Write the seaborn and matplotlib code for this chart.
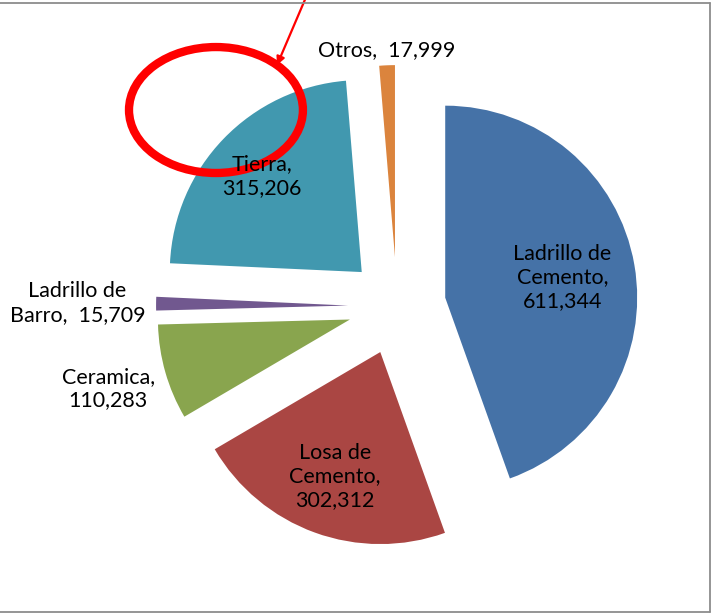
import matplotlib
matplotlib.use("Agg")
import numpy as np
import matplotlib.pyplot as plt
import seaborn as sns
from matplotlib.patches import Ellipse
from matplotlib.lines import Line2D

# data (clockwise from 12 o'clock)
categories = ['Ladrillo de\nCemento', 'Losa de\nCemento', 'Ceramica',
              'Ladrillo de\nBarro', 'Tierra', 'Otros']
values = [611344, 302312, 110283, 15709, 315206, 17999]
separators = ['\n', '\n', '\n', '  ', '\n', '  ']
colors = ['#4572A7', '#AA4643', '#89A54E', '#71588F', '#4198AF', '#DB843D']

# label placement along each wedge's bisector (in pie radii)
label_dist = [0.62, 0.69, 1.31, 1.41, 0.72, 1.08]

sns.set_style("white")
plt.rcParams['font.family'] = ['Lato', 'DejaVu Sans']

fig = plt.figure(figsize=(7.12, 6.14), dpi=100)
ax = fig.add_axes([0, 0, 1, 1])

wedges, _ = ax.pie(values, colors=colors, startangle=90, counterclock=False,
                   explode=[0.255] * len(values), radius=1,
                   wedgeprops=dict(linewidth=0))

for w, cat, val, sep, d in zip(wedges, categories, values, separators, label_dist):
    mid = np.deg2rad((w.theta1 + w.theta2) / 2)
    cx, cy = w.center
    ax.text(cx + d * np.cos(mid), cy + d * np.sin(mid), f"{cat},{sep}{val:,}",
            ha='center', va='center', fontsize=15.5, linespacing=1.22, color='black')

ax.set_aspect('auto')
ax.set_xlim(-2.068, 1.641)
ax.set_ylim(-1.604, 1.594)
ax.axis('off')

# red highlight annotation
ax.add_patch(Ellipse((-0.943, 1.021), 0.906, 0.656, fill=False,
                     edgecolor='#ff0000', linewidth=6, clip_on=False))
ax.annotate('', xy=(-0.625, 1.255), xytext=(-0.469, 1.62),
            arrowprops=dict(arrowstyle='-|>', color='#ff0000', lw=1.6,
                            mutation_scale=12, shrinkA=0, shrinkB=0),
            annotation_clip=False)

# chart area border (grey lines on top, right, bottom)
border = dict(color='#8c8c8c', linewidth=1.3, transform=fig.transFigure)
fig.add_artist(Line2D([0, 710 / 712], [1 - 3 / 614] * 2, **border))
fig.add_artist(Line2D([710 / 712] * 2, [1 - 3 / 614, 2 / 614], **border))
fig.add_artist(Line2D([0, 710 / 712], [2 / 614] * 2, **border))

fig.savefig('out.png', dpi=100)
